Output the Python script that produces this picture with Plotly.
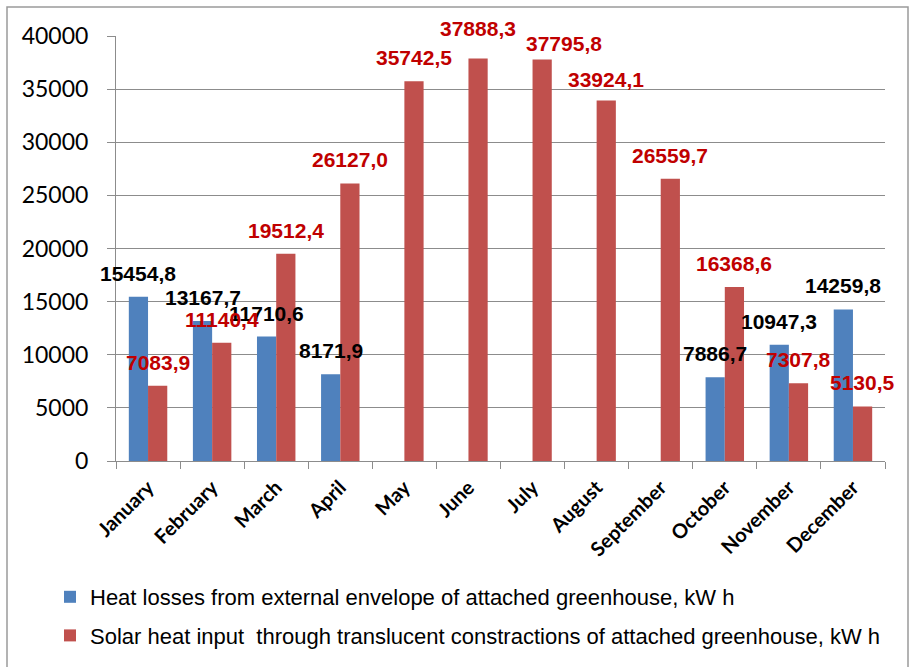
import plotly.graph_objects as go

months = ["January", "February", "March", "April", "May", "June", "July",
          "August", "September", "October", "November", "December"]
heat_losses = [15454.8, 13167.7, 11710.6, 8171.9, None, None, None,
               None, None, 7886.7, 10947.3, 14259.8]
solar_input = [7083.9, 11140.4, 19512.4, 26127.0, 35742.5, 37888.3, 37795.8,
               33924.1, 26559.7, 16368.6, 7307.8, 5130.5]
series_names = ["Heat losses from external envelope of attached greenhouse, kW h",
                "Solar heat input  through translucent constractions of attached greenhouse, kW h"]
y_ticks = [0, 5000, 10000, 15000, 20000, 25000, 30000, 35000, 40000]
y_tick_text = [str(v) for v in y_ticks]

BLUE = "#4F81BD"
RED = "#C0504D"
LABEL_RED = "#C00000"
GRID = "#8C8C8C"

W, H = 915, 667
ML, MR, MT, MB = 116, 30, 36, 206
plot_w = W - ML - MR
cat_w = plot_w / len(months)
bargap = 0.4
bar_w = cat_w * (1 - bargap) / 2
off = bar_w / 2

# per-label nudges (pixels) copied from the reference layout
nudge_red = {"June": (0, 6), "July": (22, -8), "August": (0, -2)}

fig = go.Figure()
fig.add_trace(go.Bar(x=months, y=heat_losses, name=series_names[0],
                     marker=dict(color=BLUE, line=dict(width=0)),
                     legendgroup="a"))
fig.add_trace(go.Bar(x=months, y=solar_input, name=series_names[1],
                     marker=dict(color=RED, line=dict(width=0)),
                     legendgroup="b"))

def fmt(v):
    return f"{v:.1f}".replace(".", ",")

LABEL_FONT = "Liberation Sans, Arial"
annotations = []
for m, v in zip(months, heat_losses):
    if v is None:
        continue
    annotations.append(dict(x=m, y=v, xref="x", yref="y", text=fmt(v),
                            showarrow=False, xanchor="center", yanchor="bottom",
                            xshift=-off, yshift=10,
                            font=dict(family=LABEL_FONT, size=21,
                                      color="#000000", weight="bold")))
for m, v in zip(months, solar_input):
    dx, dy = nudge_red.get(m, (0, 0))
    annotations.append(dict(x=m, y=v, xref="x", yref="y", text=fmt(v),
                            showarrow=False, xanchor="center", yanchor="bottom",
                            xshift=off + dx, yshift=10 + dy,
                            font=dict(family=LABEL_FONT, size=21,
                                      color=LABEL_RED, weight="bold")))

def px_to_paper_x(px):
    return (px - ML) / plot_w

def px_to_paper_y(py):
    return (H - MB - py) / (H - MT - MB)

fig.update_layout(
    width=W, height=H,
    margin=dict(l=ML, r=MR, t=MT, b=MB, autoexpand=False),
    paper_bgcolor="white", plot_bgcolor="white",
    barmode="group", bargap=bargap, bargroupgap=0,
    showlegend=True,
    legend=dict(x=px_to_paper_x(50), y=px_to_paper_y(576),
                xanchor="left", yanchor="top", orientation="v",
                font=dict(family=LABEL_FONT, size=22, color="#000000"),
                tracegroupgap=7, itemwidth=30, bgcolor="rgba(0,0,0,0)"),
    annotations=annotations,
    shapes=[dict(type="rect", xref="paper", yref="paper",
                 x0=px_to_paper_x(7), x1=px_to_paper_x(908),
                 y0=px_to_paper_y(700), y1=px_to_paper_y(7),
                 line=dict(color="#9A9A9A", width=1.5), fillcolor="rgba(0,0,0,0)",
                 layer="below")],
)
fig.update_xaxes(type="category", range=[-0.5, len(months) - 0.5], autorange=False,
                 showgrid=False, showline=True, linecolor=GRID,
                 linewidth=1, ticks="outside", ticklen=7, tickcolor=GRID,
                 tickson="boundaries", tickangle=-45,
                 ticklabelstandoff=6,
                 tickfont=dict(family="Lato", size=20, color="#000000", weight="bold"))
fig.update_yaxes(range=[0, 40000], tickvals=y_ticks, ticktext=y_tick_text,
                 showgrid=True, gridcolor=GRID, gridwidth=1,
                 showline=True, linecolor=GRID, linewidth=1,
                 ticks="outside", ticklen=8, tickcolor=GRID,
                 ticklabelstandoff=14, zeroline=False,
                 tickfont=dict(family="Lato", size=23, color="#000000"))

fig.write_html("out.html")
